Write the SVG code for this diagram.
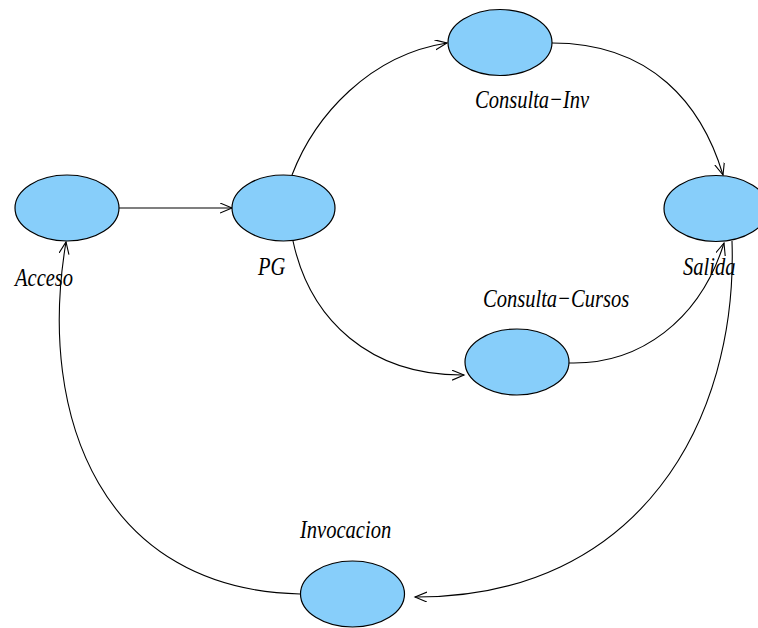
<svg xmlns="http://www.w3.org/2000/svg" width="758" height="628" viewBox="0 0 758 628">
  <style>
    .node ellipse { fill: #87cefa; stroke: #000; stroke-width: 1.2; }
    .label { font-family: "Liberation Serif", "Times New Roman", serif; font-style: italic; font-size: 26px; fill: #000; }
    .edge { fill: none; stroke: #000; stroke-width: 1.1; marker-end: url(#arrow); }
  </style>
  <defs>
    <marker id="arrow" markerUnits="userSpaceOnUse" markerWidth="14" markerHeight="12" refX="12" refY="5" orient="auto">
      <path d="M0,0 L12,5 L0,10" fill="none" stroke="#000" stroke-width="1.1"/>
    </marker>
  </defs>

  <!-- transitions -->
  <g id="edges">
    <path class="edge" d="M119,208 L232,208"/>
    <path class="edge" d="M292,175 C315,115 370,55 447,43"/>
    <path class="edge" d="M552,43 C652,43 702,105 723,175"/>
    <path class="edge" d="M293,241 C310,320 370,376 464,375"/>
    <path class="edge" d="M569,363 C640,365 700,320 724,243"/>
    <path class="edge" d="M732,241 C738,420 640,598 415,597"/>
    <path class="edge" d="M300,594 C105,590 36,420 66,242"/>
  </g>

  <!-- states -->
  <g id="acceso" class="node">
    <ellipse cx="67" cy="208" rx="52" ry="33"/>
    <text class="label" transform="translate(15,286) scale(0.79,1)">Acceso</text>
  </g>
  <g id="pg" class="node">
    <ellipse cx="283.5" cy="208" rx="51.5" ry="33"/>
    <text class="label" transform="translate(258,275) scale(0.79,1)">PG</text>
  </g>
  <g id="consulta-inv" class="node">
    <ellipse cx="500" cy="42.5" rx="52" ry="33"/>
    <text class="label" transform="translate(475,108) scale(0.79,1)">Consulta−Inv</text>
  </g>
  <g id="salida" class="node">
    <ellipse cx="716" cy="208.5" rx="52" ry="33"/>
    <text class="label" transform="translate(683,275) scale(0.79,1)">Salida</text>
  </g>
  <g id="consulta-cursos" class="node">
    <ellipse cx="517" cy="362" rx="52" ry="33"/>
    <text class="label" transform="translate(483,307) scale(0.79,1)">Consulta−Cursos</text>
  </g>
  <g id="invocacion" class="node">
    <ellipse cx="352.5" cy="594" rx="52" ry="33"/>
    <text class="label" transform="translate(300,538) scale(0.79,1)">Invocacion</text>
  </g>
</svg>
